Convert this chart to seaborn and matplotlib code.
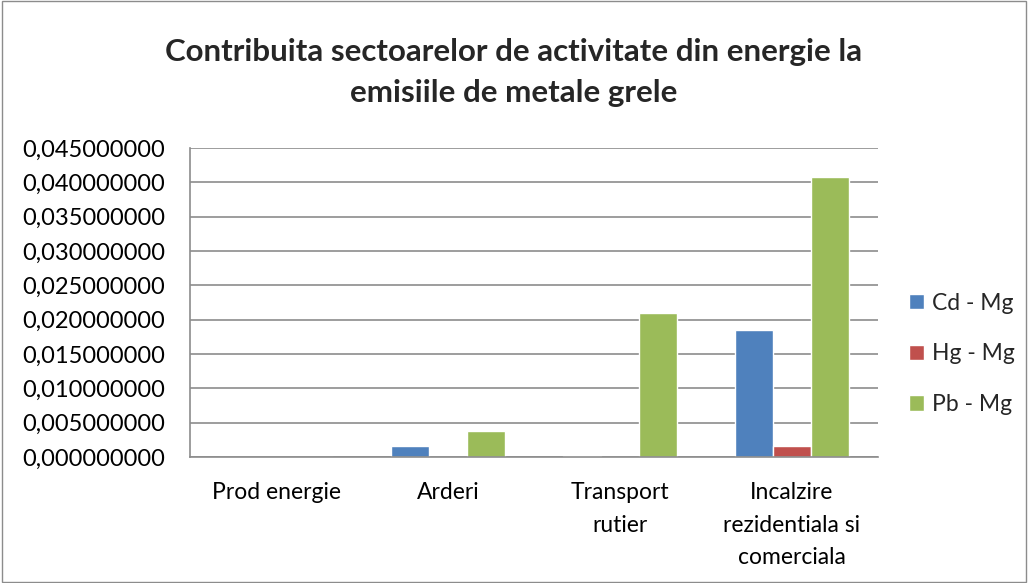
import pandas as pd
import matplotlib.pyplot as plt
import seaborn as sns
from matplotlib.patches import Rectangle
from matplotlib.ticker import FuncFormatter

# Data
sectors = ["Prod energie", "Arderi", "Transport\nrutier",
           "Incalzire\nrezidentiala si\ncomerciala"]
metals = ["Cd - Mg", "Hg - Mg", "Pb - Mg"]
cd_values = [0.0, 0.00165, 0.00022, 0.01856]
hg_values = [0.0, 0.00005, 0.00001, 0.00160]
pb_values = [0.0, 0.00385, 0.02097, 0.04085]
yticks = [i * 0.005 for i in range(10)]

colors = ["#4F81BD", "#C0504D", "#9BBB59"]

df = pd.DataFrame({
    "sector": sectors * 3,
    "metal": [m for m in metals for _ in sectors],
    "value": cd_values + hg_values + pb_values,
})

sns.set_theme(style="white")
plt.rcParams["font.family"] = ["Lato", "DejaVu Sans"]

fig = plt.figure(figsize=(10.28, 5.83), dpi=100)
ax = fig.add_axes([0.185, 0.216, 0.669, 0.530])

sns.barplot(data=df, x="sector", y="value", hue="metal", palette=colors,
            width=0.663, gap=0, saturation=1, ax=ax, legend=True)

ax.set_ylim(0, 0.045)
ax.set_xlim(-0.5, 3.5)
ax.set_yticks(yticks)
ax.yaxis.set_major_formatter(FuncFormatter(lambda v, _: f"{v:.9f}".replace(".", ",")))
ax.grid(axis="y", color="#8c8c8c", linewidth=1.2)
ax.set_axisbelow(True)
ax.set_xlabel("")
ax.set_ylabel("")
ax.tick_params(axis="y", labelsize=17, colors="black", length=0, pad=18)
ax.tick_params(axis="x", labelsize=16.5, colors="black", length=0, pad=18)
for lbl in ax.get_xticklabels():
    lbl.set_linespacing(1.68)
for side in ["top", "right"]:
    ax.spines[side].set_visible(False)
for side in ["left", "bottom"]:
    ax.spines[side].set_color("#8c8c8c")
    ax.spines[side].set_linewidth(1.2)

handles, labels = ax.get_legend_handles_labels()
ax.get_legend().remove()
fig.legend(handles, labels, loc="center left", bbox_to_anchor=(0.875, 0.393),
           frameon=False, fontsize=16.5, handlelength=0.65, handleheight=0.65,
           handletextpad=0.35, labelspacing=1.3, borderaxespad=0)

fig.suptitle("Contribuita sectoarelor de activitate din energie la\nemisiile de metale grele",
             fontsize=22.5, fontweight="bold", y=0.935, linespacing=1.58)

fig.patches.append(Rectangle((0.002, 0.002), 0.996, 0.996, transform=fig.transFigure,
                             fill=False, edgecolor="#8c8c8c", linewidth=1))

fig.savefig("out.png", dpi=100)
